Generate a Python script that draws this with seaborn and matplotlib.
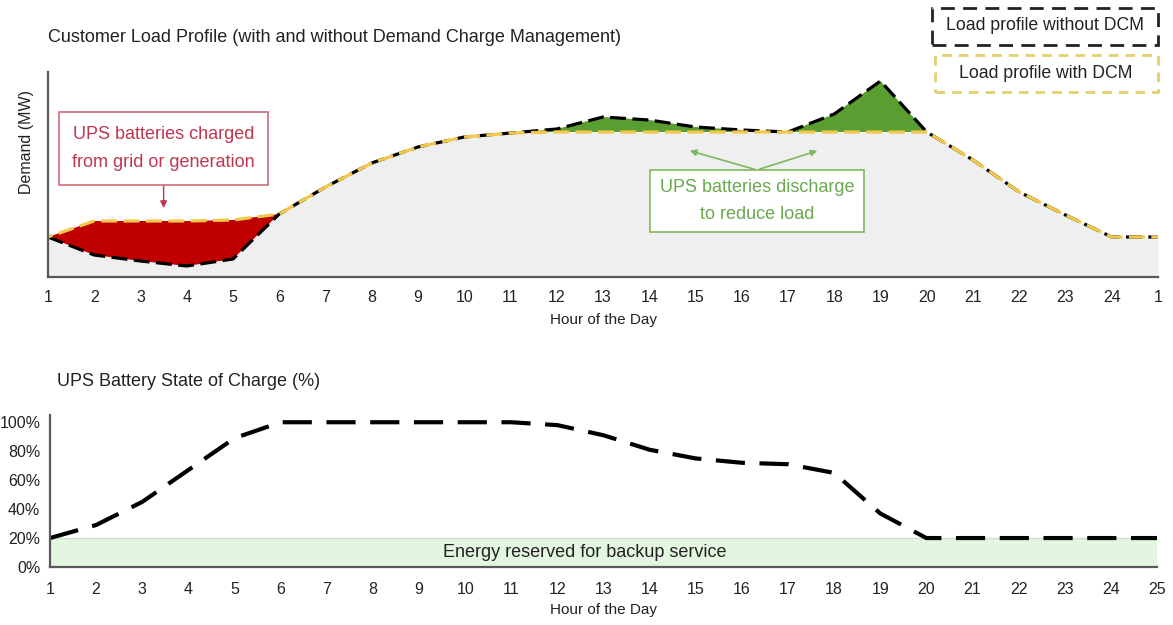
import numpy as np
import pandas as pd
import seaborn as sns
import matplotlib.pyplot as plt
from matplotlib.patches import Rectangle

sns.set_theme(style="white")
plt.rcParams['font.family'] = ['Liberation Sans', 'DejaVu Sans']

# data
hours = list(range(1, 26))
hour_labels_top = [str(h) for h in range(1, 25)] + ["1"]
load_without_dcm = [4.0, 2.2, 1.6, 1.1, 1.8, 6.3, 9.0, 11.4, 13.0, 14.0, 14.4, 14.8, 16.0,
                    15.7, 15.0, 14.7, 14.5, 16.3, 19.6, 14.5, 11.7, 8.5, 6.2, 4.0, 4.0]
load_with_dcm = [4.0, 5.6, 5.6, 5.6, 5.7, 6.3, 9.0, 11.4, 13.0, 14.0, 14.4, 14.5, 14.5,
                 14.5, 14.5, 14.5, 14.5, 14.5, 14.5, 14.5, 11.7, 8.5, 6.2, 4.0, 4.0]
state_of_charge = [20, 29, 45, 67, 89, 100, 100, 100, 100, 100, 100, 98, 91,
                   81, 75, 72, 71, 65, 37, 20, 20, 20, 20, 20, 20]
reserve_level = 20
soc_ticks = [0, 20, 40, 60, 80, 100]

df = pd.DataFrame({"hour": hours, "without": load_without_dcm,
                   "with": load_with_dcm, "soc": state_of_charge})

W, H = 1173, 625
fig = plt.figure(figsize=(W / 100, H / 100), dpi=100)

# ---------------- top: load profile ----------------
ax = fig.add_axes([48 / W, 1 - 277 / H, 1110 / W, 205 / H])
wo = np.array(load_without_dcm)
wi = np.array(load_with_dcm)
ax.fill_between(hours, 0, np.minimum(wo, wi), color="#efefef", lw=0)
ax.fill_between(hours, wo, wi, where=wi >= wo, interpolate=True, color="#c00000", lw=0)
ax.fill_between(hours, wi, wo, where=wo >= wi, interpolate=True, color="#5a9e32", lw=0)

sns.lineplot(data=df, x="hour", y="without", ax=ax, color="black",
             linewidth=2.3, linestyle=(0, (5, 2)))
sns.lineplot(data=df, x="hour", y="with", ax=ax, color="#f2c84a",
             linewidth=2.3, linestyle=(3.5, (5, 2)))

ax.set_xlim(1, 25)
ax.set_ylim(0, 20.5)
ax.set_xticks(hours)
ax.set_xticklabels(hour_labels_top)
ax.set_yticks([])
ax.tick_params(axis="x", length=0, pad=9, labelsize=11.5, colors="#222222")
ax.set_xlabel("Hour of the Day", fontsize=11, labelpad=6, color="#222222")
ax.set_ylabel("Demand (MW)", fontsize=11.5, color="#222222")
ax.yaxis.set_label_coords(-0.0125, 0.66)
for s in ["top", "right"]:
    ax.spines[s].set_visible(False)
for s in ["left", "bottom"]:
    ax.spines[s].set_color("#595959")
    ax.spines[s].set_linewidth(1.6)

ax.text(3.5, 12.85, "UPS batteries charged\nfrom grid or generation", ha="center",
        va="center", color="#c0364f", fontsize=13, linespacing=1.9,
        bbox=dict(boxstyle="square,pad=0.75", fc="white", ec="#d06c7c", lw=1.2))
ax.annotate("", xy=(3.5, 6.9), xytext=(3.5, 9.1),
            arrowprops=dict(arrowstyle="-|>", color="#c0364f", lw=1, mutation_scale=10,
                            shrinkA=0, shrinkB=0))

ax.text(16.33, 7.6, "UPS batteries discharge\nto reduce load", ha="center",
        va="center", color="#6aa84f", fontsize=13, linespacing=1.7,
        bbox=dict(boxstyle="square,pad=0.55", fc="white", ec="#7fb760", lw=1.2))
for tx in [14.82, 17.69]:
    ax.annotate("", xy=(tx, 12.7), xytext=(16.33, 10.7),
                arrowprops=dict(arrowstyle="-|>", color="#7fb760", lw=1.2, mutation_scale=9))

fig.text(48 / W, 1 - 38 / H, "Customer Load Profile (with and without Demand Charge Management)",
         ha="left", va="center", fontsize=13, color="#222222")

# legend boxes
fig.add_artist(Rectangle((932 / W, 1 - 45 / H), 226 / W, 37 / H, transform=fig.transFigure,
                         fill=False, ec="#222222", lw=2, ls=(0, (5, 3))))
fig.text(1045 / W, 1 - 26 / H, "Load profile without DCM", ha="center", va="center",
         fontsize=12.7, color="#222222")
fig.add_artist(Rectangle((935 / W, 1 - 92 / H), 223 / W, 37 / H, transform=fig.transFigure,
                         fill=False, ec="#e3d06e", lw=2, ls=(0, (3.5, 2.5))))
fig.text(1046 / W, 1 - 73 / H, "Load profile with DCM", ha="center", va="center",
         fontsize=12.7, color="#222222")

# ---------------- bottom: state of charge ----------------
ax2 = fig.add_axes([50 / W, 1 - 567 / H, 1107 / W, 152 / H])
ax2.fill_between(hours, 0, reserve_level, color="#e3f6df", lw=0)
ax2.plot([1, 25], [reserve_level, reserve_level], color="#cfdccf", lw=1)
ax2.text(12.6, reserve_level / 2, "Energy reserved for backup service", ha="center",
         va="center", fontsize=13, color="#222222")
sns.lineplot(data=df, x="hour", y="soc", ax=ax2, color="black",
             linewidth=3, linestyle=(0, (7, 3.5)))

ax2.set_xlim(1, 25)
ax2.set_ylim(0, 105)
ax2.set_xticks(hours)
ax2.set_yticks(soc_ticks)
ax2.set_yticklabels([f"{v}%" for v in soc_ticks])
ax2.tick_params(axis="x", length=0, pad=11, labelsize=11.5, colors="#222222")
ax2.tick_params(axis="y", length=0, pad=7, labelsize=11.5, colors="#222222")
ax2.set_xlabel("Hour of the Day", fontsize=11, labelpad=4, color="#222222")
ax2.set_ylabel("")
for s in ["top", "right"]:
    ax2.spines[s].set_visible(False)
for s in ["left", "bottom"]:
    ax2.spines[s].set_color("#595959")
    ax2.spines[s].set_linewidth(1.6)

fig.text(57 / W, 1 - 381 / H, "UPS Battery State of Charge (%)", ha="left", va="center",
         fontsize=13, color="#222222")

fig.savefig("out.png", dpi=100)
